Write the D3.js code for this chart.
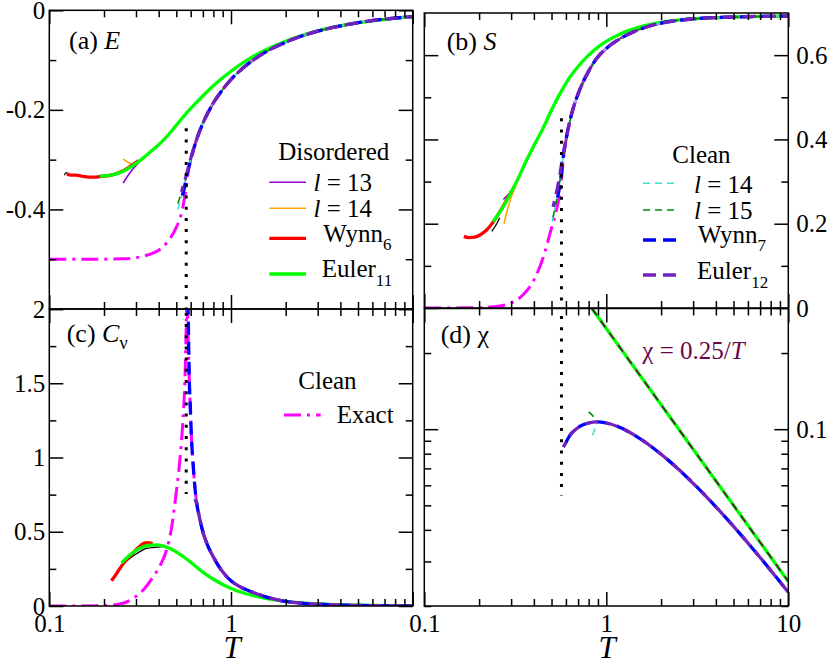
<!DOCTYPE html>
<html><head><meta charset="utf-8">
<script src="https://cdn.jsdelivr.net/npm/d3@7/dist/d3.min.js"></script>
<style>
html,body{margin:0;padding:0;background:#fff;}
svg{display:block;font-family:"Liberation Serif","Times New Roman",serif;}
</style></head><body>
<svg id="chart" width="830" height="662"></svg>
<script>
// ---------------- data (T, value) ----------------
const xMajor = [0.1, 1, 10];
const xMinor = [0.2,0.3,0.4,0.5,0.6,0.7,0.8,0.9,2,3,4,5,6,7,8,9];
const xLabelsC = ["0.1", "1", ""];
const xLabelsD = ["0.1", "1", "10"];

const eTicks = [-0.6,-0.4,-0.2,0], eMinor = [-0.5,-0.3,-0.1], eLabels = ["","-0.4","-0.2","0"];
const sTicks = [0,0.2,0.4,0.6], sMinor = [0.1,0.3,0.5], sLabels = ["0","0.2","0.4","0.6"];
const cTicks = [0,0.5,1,1.5,2], cMinor = [0.25,0.75,1.25,1.75], cLabels = ["0","0.5","1","1.5","2"];
const xTicksChi = [0.1], xMinorChi = [0.02,0.03,0.04,0.05,0.06,0.07,0.08,0.09,0.2], chiLabels = ["0.1"];

const Tc = 0.567;

// Panel (a) energy
const eExact = [[0.1,-0.5],[0.2,-0.4999],[0.25,-0.4993],[0.3,-0.497],[0.35,-0.491],[0.4,-0.482],[0.45,-0.464],[0.5,-0.436],[0.53,-0.412],[0.55,-0.385],[0.567,-0.354],[0.58,-0.326],[0.6,-0.302],[0.65,-0.257],[0.7,-0.227],[0.8,-0.186],[0.9,-0.159],[1,-0.139],[1.2,-0.112],[1.5,-0.087],[2,-0.064],[3,-0.042],[5,-0.025],[10,-0.0125]];
const eCleanTail = [[0.65,-0.257],[0.7,-0.227],[0.8,-0.186],[0.9,-0.159],[1,-0.139],[1.2,-0.112],[1.5,-0.087],[2,-0.064],[3,-0.042],[5,-0.025],[10,-0.0125]];
const eCleanL14 = [[0.51,-0.400],[0.53,-0.378],[0.55,-0.355],[0.58,-0.322],[0.6,-0.300]];
const eCleanL15 = [[0.51,-0.388],[0.53,-0.370],[0.55,-0.352],[0.58,-0.320],[0.6,-0.299]];
const eCleanWynn = [[0.54,-0.372],[0.555,-0.355],[0.567,-0.338],[0.58,-0.322],[0.6,-0.300]];
const eCleanEuler = [[0.535,-0.365],[0.55,-0.348],[0.567,-0.332],[0.58,-0.318],[0.6,-0.298]];
const eDisTail = [[0.4,-0.270],[0.45,-0.251],[0.5,-0.231],[0.567,-0.207],[0.65,-0.184],[0.75,-0.161],[0.85,-0.143],[1,-0.1224],[1.2,-0.1021],[1.5,-0.0822],[2,-0.0622],[3,-0.0414],[5,-0.025],[10,-0.0125]];
const eDisEuler = [[0.19,-0.333],[0.21,-0.332],[0.23,-0.329],[0.25,-0.325],[0.28,-0.315],[0.31,-0.304],[0.358,-0.285]];
const eDisWynn = [[0.125,-0.329],[0.13,-0.331],[0.14,-0.331],[0.15,-0.333],[0.165,-0.335],[0.18,-0.335],[0.2,-0.333],[0.22,-0.331],[0.25,-0.324],[0.28,-0.313],[0.31,-0.302]];
const eDisL13 = [[0.255,-0.347],[0.27,-0.333],[0.29,-0.318],[0.31,-0.306],[0.358,-0.286]];
const eDisL14 = [[0.255,-0.299],[0.27,-0.305],[0.285,-0.309],[0.31,-0.304],[0.358,-0.285]];
const eDisBlack = [[0.121,-0.331],[0.124,-0.326],[0.128,-0.329]];
const eTcLine = [[Tc,-0.237],[Tc,-0.6]];

// Panel (b) entropy
const sExact = [[0.1,0],[0.2,0.0005],[0.24,0.003],[0.3,0.012],[0.35,0.032],[0.4,0.066],[0.45,0.12],[0.5,0.19],[0.534,0.235],[0.55,0.262],[0.567,0.3065],[0.58,0.35],[0.6,0.397],[0.65,0.466],[0.7,0.508],[0.8,0.562],[0.9,0.596],[1,0.616],[1.2,0.640],[1.5,0.660],[2,0.676],[3,0.686],[5,0.6905],[10,0.6926]];
const sCleanTail = [[0.65,0.466],[0.7,0.508],[0.8,0.562],[0.9,0.596],[1,0.616],[1.2,0.640],[1.5,0.660],[2,0.676],[3,0.686],[5,0.6905],[10,0.6926]];
const sCleanL14 = [[0.505,0.205],[0.52,0.235],[0.54,0.27],[0.567,0.33],[0.6,0.395]];
const sCleanL15 = [[0.51,0.215],[0.53,0.25],[0.55,0.285],[0.567,0.335],[0.6,0.397]];
const sCleanWynn = [[0.54,0.262],[0.555,0.29],[0.567,0.32],[0.58,0.36],[0.6,0.398]];
const sCleanEuler = [[0.51,0.24],[0.53,0.27],[0.55,0.305],[0.567,0.34],[0.6,0.40]];
const sDisTail = [[0.4,0.385],[0.45,0.427],[0.5,0.47],[0.556,0.508],[0.62,0.543],[0.7,0.573],[0.8,0.600],[0.9,0.619],[1,0.6325],[1.2,0.6507],[1.5,0.6657],[2,0.6777],[3,0.6862],[5,0.6906],[10,0.6925]];
const sDisEuler = [[0.239,0.205],[0.26,0.228],[0.28,0.25],[0.3,0.275],[0.33,0.31],[0.365,0.351]];
const sDisWynn = [[0.165,0.170],[0.175,0.167],[0.19,0.168],[0.2,0.172],[0.22,0.185],[0.24,0.205],[0.26,0.228],[0.28,0.252],[0.3,0.276]];
const sDisL13 = [[0.272,0.258],[0.285,0.266],[0.3,0.277],[0.33,0.31]];
const sDisL14 = [[0.274,0.2],[0.285,0.23],[0.3,0.262],[0.32,0.293],[0.365,0.351]];
const sDisBlack = [[0.235,0.182],[0.25,0.2],[0.26,0.214]];
const sTcLine = [[Tc,0.45],[Tc,0]];

// Panel (c) specific heat
const cvExactLow = [[0.1,0],[0.2,0.002],[0.235,0.01],[0.26,0.022],[0.29,0.052],[0.33,0.11],[0.373,0.197],[0.41,0.28],[0.442,0.377],[0.47,0.52],[0.492,0.70],[0.515,0.9],[0.535,1.12],[0.548,1.32],[0.557,1.5],[0.565,1.8],[0.571,2.05]];
const cvCleanTail = [[0.59,1.5],[0.595,1.39],[0.605,1.15],[0.62,0.94],[0.635,0.78],[0.65,0.68],[0.675,0.58],[0.7,0.50],[0.734,0.425],[0.8,0.33],[0.834,0.29],[0.9,0.23],[1,0.17],[1.1,0.135],[1.27,0.1],[1.57,0.06],[2,0.031],[2.4,0.02],[3,0.012],[5,0.004],[10,0.001]];
const cvCleanWynn = [[0.58,2.05],[0.585,1.75]];
const cvCleanEuler = [[0.634,0.72],[0.65,0.68]];
const cvDisTail = [[0.45,0.393],[0.5,0.365],[0.55,0.33],[0.6,0.295],[0.7,0.228],[0.8,0.18],[0.9,0.145],[1,0.1175],[1.2,0.084],[1.5,0.054],[2,0.031],[3,0.0138],[5,0.005],[10,0.00125]];
const cvDisEuler = [[0.25,0.29],[0.27,0.33],[0.3,0.375],[0.33,0.40],[0.36,0.41],[0.39,0.412],[0.42,0.405]];
const cvDisWynn = [[0.22,0.17],[0.235,0.22],[0.25,0.27],[0.27,0.32],[0.29,0.36],[0.31,0.395],[0.33,0.42],[0.35,0.425],[0.37,0.42]];
const cvDisL14 = [[0.33,0.43],[0.35,0.432],[0.37,0.425]];
const cvDisBlack = [[0.25,0.275],[0.3,0.35],[0.343,0.388],[0.38,0.395],[0.42,0.4]];
const cvTcLine = [[Tc,2.05],[Tc,0.754]];

// Panel (d) susceptibility
const chiCleanTail = [[0.886,0.1069],[1,0.1058],[1.2,0.1013],[1.5,0.0926],[2,0.0796],[2.5,0.0693],[3,0.0611],[4,0.04935],[5,0.0413],[7,0.0311],[10,0.02267]];
const chiCleanEuler = [[0.58,0.085],[0.6,0.0885],[0.632,0.0947],[0.67,0.099],[0.717,0.1027],[0.8,0.1058]];
const chiCleanWynn = [[0.6,0.0885],[0.632,0.0947],[0.67,0.099],[0.717,0.1027],[0.8,0.1058]];
const chiCleanL15 = [[0.8,0.117],[0.86,0.111],[0.886,0.1075]];
const chiCleanL14 = [[0.84,0.0947],[0.87,0.101],[0.886,0.1045]];
const chiCurie = [[0.8333,0.3],[10,0.025]];
const chiTcLine = [[Tc,0.31],[Tc,0.0546]];

// ---------------- styles ----------------
const FONT = '"Liberation Serif","Times New Roman",serif';
const ST = {
  disL13:{c:"#9400d3",w:1.6}, disL14:{c:"#ffa500",w:1.6}, black:{c:"#000",w:1.3},
  disWynn:{c:"#ff0000",w:3.3}, disEuler:{c:"#00ff00",w:3.3},
  clL14:{c:"#40e0d0",w:1.6,d:"7,5"}, clL15:{c:"#008b00",w:1.6,d:"7,5"},
  clWynn:{c:"#0000ff",w:3.3,d:"13,7"}, clEuler:{c:"#7221bc",w:3.3,d:"13,7",o:7},
  exact:{c:"#ff00ff",w:3,d:"17,6,3,6"}, dot:{c:"#000",w:3,d:"3,8.2"},
  curie:{c:"#670748",w:1.6,d:"8,7"}
};

const svg = d3.select("#chart");
const P = {
  a:{l:49.3,r:412.7,t:10.3,b:309,y:d3.scaleLinear().domain([-0.6,0])},
  b:{l:424.3,r:788.3,t:13,b:308,y:d3.scaleLinear().domain([0,0.7])},
  c:{l:49.3,r:412.7,t:309,b:606,y:d3.scaleLinear().domain([0,2])},
  d:{l:424.3,r:788.3,t:308.5,b:606,y:d3.scaleLog().domain([0.02,0.3])}
};
const defs = svg.append("defs");
Object.entries(P).forEach(([k,p])=>{
  p.x = d3.scaleLog().domain([0.1,10]).range([p.l,p.r]);
  p.y.range([p.b,p.t]);
  defs.append("clipPath").attr("id","clip-"+k).append("rect")
    .attr("x",p.l).attr("y",p.t).attr("width",p.r-p.l).attr("height",p.b-p.t);
  p.g = svg.append("g").attr("clip-path",`url(#clip-${k})`);
});

function draw(p, data, st, curve){
  const line = d3.line().x(d=>p.x(d[0])).y(d=>p.y(d[1])).curve(curve||d3.curveMonotoneX);
  p.g.append("path").datum(data).attr("d",line).attr("fill","none")
    .attr("stroke",st.c).attr("stroke-width",st.w)
    .attr("stroke-dasharray",st.d||null).attr("stroke-dashoffset",st.o||0)
    .attr("stroke-linejoin","round");
}

function styleAxis(g){
  g.select(".domain").remove();
  g.selectAll("line").attr("stroke","#000").attr("stroke-width",1.5);
  g.selectAll("text").attr("font-family",FONT).attr("font-size",25).attr("fill","#000");
  return g;
}
function axes(p, yMaj, yMin, yLab, side, xLab){
  const add=(ax,tr)=>styleAxis(svg.append("g").attr("transform",tr).call(ax));
  add(d3.axisBottom(p.x).tickValues(xMajor).tickSize(-14).tickPadding(8.5)
      .tickFormat((d,i)=> xLab ? xLab[i] : ""), `translate(0,${p.b})`);
  add(d3.axisBottom(p.x).tickValues(xMinor).tickSize(-7).tickFormat(""), `translate(0,${p.b})`);
  add(d3.axisTop(p.x).tickValues(xMajor).tickSize(-14).tickFormat(""), `translate(0,${p.t})`);
  add(d3.axisTop(p.x).tickValues(xMinor).tickSize(-7).tickFormat(""), `translate(0,${p.t})`);
  add(d3.axisLeft(p.y).tickValues(yMaj).tickSize(-14).tickPadding(4)
      .tickFormat((d,i)=> side==="left" ? yLab[i] : ""), `translate(${p.l},0)`);
  add(d3.axisLeft(p.y).tickValues(yMin).tickSize(-7).tickFormat(""), `translate(${p.l},0)`);
  add(d3.axisRight(p.y).tickValues(yMaj).tickSize(-14).tickPadding(8)
      .tickFormat((d,i)=> side==="right" ? yLab[i] : ""), `translate(${p.r},0)`);
  add(d3.axisRight(p.y).tickValues(yMin).tickSize(-7).tickFormat(""), `translate(${p.r},0)`);
  svg.append("rect").attr("x",p.l).attr("y",p.t).attr("width",p.r-p.l).attr("height",p.b-p.t)
    .attr("fill","none").attr("stroke","#000").attr("stroke-width",1.5);
}

// ---------- panel (a) ----------
let p = P.a;
draw(p, eExact, ST.exact);
draw(p, eDisBlack, ST.black);
draw(p, eDisL13.concat(eDisTail), ST.disL13);
draw(p, eDisL14.concat(eDisTail), ST.disL14);
draw(p, eDisWynn, ST.disWynn);
draw(p, eDisEuler.concat(eDisTail), ST.disEuler);
draw(p, eCleanL14.concat(eCleanTail), ST.clL14);
draw(p, eCleanL15.concat(eCleanTail), ST.clL15);
draw(p, eCleanWynn.concat(eCleanTail), ST.clWynn);
draw(p, eCleanEuler.concat(eCleanTail), ST.clEuler);
draw(p, eTcLine, ST.dot, d3.curveLinear);
axes(p, eTicks, eMinor, eLabels, "left", null);

// ---------- panel (b) ----------
p = P.b;
draw(p, sExact, ST.exact);
draw(p, sDisBlack, ST.black);
draw(p, sDisL13.concat(sDisTail), ST.disL13);
draw(p, sDisL14.concat(sDisTail), ST.disL14);
draw(p, sDisWynn, ST.disWynn);
draw(p, sDisEuler.concat(sDisTail), ST.disEuler);
draw(p, sCleanL14.concat(sCleanTail), ST.clL14);
draw(p, sCleanL15.concat(sCleanTail), ST.clL15);
draw(p, sCleanWynn.concat(sCleanTail), ST.clWynn);
draw(p, sCleanEuler.concat(sCleanTail), ST.clEuler);
draw(p, sTcLine, ST.dot, d3.curveLinear);
axes(p, sTicks, sMinor, sLabels, "right", null);

// ---------- panel (c) ----------
p = P.c;
draw(p, cvExactLow, ST.exact);
draw(p, [[0.575,2.05]].concat(cvCleanTail), ST.exact);
draw(p, cvDisBlack, ST.black);
draw(p, cvDisL14, ST.disL14);
draw(p, cvDisWynn, ST.disWynn);
draw(p, cvDisEuler.concat(cvDisTail), ST.disEuler);
draw(p, [[0.63,0.73]].concat(cvCleanTail.slice(5)), ST.clL14);
draw(p, cvCleanWynn.concat(cvCleanTail), ST.clWynn);
draw(p, cvCleanEuler.concat(cvCleanTail.slice(6)), ST.clEuler);
draw(p, cvTcLine, ST.dot, d3.curveLinear);
axes(p, cTicks, cMinor, cLabels, "left", xLabelsC);

// ---------- panel (d) ----------
p = P.d;
draw(p, chiCurie, ST.disEuler, d3.curveLinear);
draw(p, chiCurie, ST.curie, d3.curveLinear);
draw(p, chiCleanL14.concat(chiCleanTail), ST.clL14);
draw(p, chiCleanL15.concat(chiCleanTail), ST.clL15);
draw(p, chiCleanWynn.concat(chiCleanTail), ST.clWynn);
draw(p, chiCleanEuler.concat(chiCleanTail), ST.clEuler);
draw(p, chiTcLine, ST.dot, d3.curveLinear);
axes(p, xTicksChi, xMinorChi, chiLabels, "right", xLabelsD);

// ---------- texts ----------
function txt(x,y,parts,size,color){
  const t = svg.append("text").attr("x",x).attr("y",y).attr("font-family",FONT)
    .attr("font-size",size).attr("fill",color||"#000");
  parts.forEach(q=>{
    const s=t.append("tspan").text(q.t);
    if(q.i) s.attr("font-style","italic");
    if(q.sub){ s.attr("font-size",q.sub).attr("dy",q.dy); }
  });
  return t;
}
txt(69,48.5,[{t:"(a) "},{t:"E",i:1}],26);
txt(446.7,49.5,[{t:"(b) "},{t:"S",i:1}],26);
txt(66.7,342,[{t:"(c) "},{t:"C",i:1},{t:"ν",sub:18,dy:7}],26);
txt(440.7,343,[{t:"(d) χ"}],26);

// axis titles
txt(232,658,[{t:"T",i:1}],31).attr("text-anchor","middle");
txt(607,658,[{t:"T",i:1}],31).attr("text-anchor","middle");

// legends
function legLine(x1,x2,y,st){
  svg.append("line").attr("x1",x1).attr("x2",x2).attr("y1",y).attr("y2",y)
    .attr("stroke",st.c).attr("stroke-width",st.w).attr("stroke-dasharray",st.d||null);
}
txt(278.3,160,[{t:"Disordered"}],25);
legLine(269.3,306,182.3,ST.disL13); txt(313.5,190.7,[{t:"l",i:1},{t:" = 13"}],25);
legLine(269.3,306,208.3,ST.disL14); txt(313.5,216.7,[{t:"l",i:1},{t:" = 14"}],25);
legLine(269.3,306,238.3,ST.disWynn); txt(323.3,241.7,[{t:"Wynn"},{t:"6",sub:17,dy:8}],25);
legLine(269.3,306,274,ST.disEuler); txt(321.7,277.3,[{t:"Euler"},{t:"11",sub:17,dy:9}],25);

txt(672.3,162.7,[{t:"Clean"}],25);
legLine(643,679,183.3,ST.clL14); txt(694,193.3,[{t:"l",i:1},{t:" = 14"}],25);
legLine(643,679,210,ST.clL15); txt(694,218.5,[{t:"l",i:1},{t:" = 15"}],25);
legLine(643,679,240,ST.clWynn); txt(698,242.5,[{t:"Wynn"},{t:"7",sub:17,dy:8}],25);
legLine(643,679,275,ST.clEuler); txt(697,279.3,[{t:"Euler"},{t:"12",sub:17,dy:9}],25);

txt(298.3,389,[{t:"Clean"}],25);
legLine(284,320.7,415,ST.exact); txt(336.7,423.3,[{t:"Exact"}],25);

txt(642.3,359.3,[{t:"χ = 0.25/"},{t:"T",i:1}],25,"#670748");
</script></body></html>
